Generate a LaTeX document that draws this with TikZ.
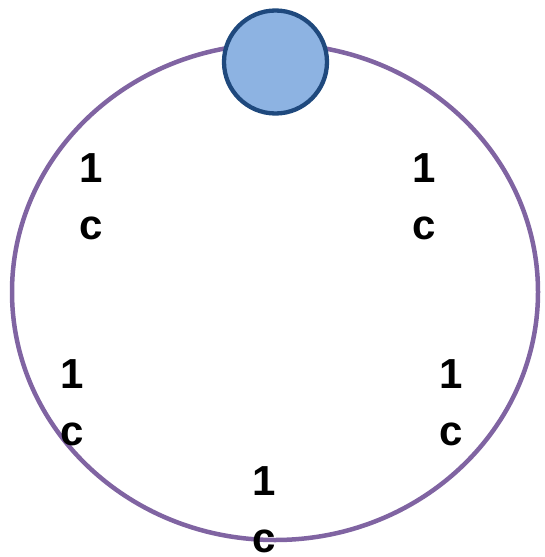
\documentclass[tikz,border=0pt]{standalone}
\usepackage{fontspec}
\setmainfont{Liberation Sans}
\usepackage{xcolor}
\definecolor{roxo}{RGB}{128, 100, 162}
\definecolor{azulclaro}{RGB}{141, 179, 226}
\definecolor{azulescuro}{RGB}{31, 73, 125}
\tikzset{
  rotulo/.style={
    align=center, inner sep=0pt,
    font=\fontsize{42}{57}\selectfont\bfseries
  },
  anel/.style={draw=roxo, line width=4.5pt},
  bola/.style={circle, draw=azulescuro, fill=azulclaro, line width=4.3pt,
    minimum size=103pt, inner sep=0pt},
}

\begin{document}
\begin{tikzpicture}[x=1pt, y=-1pt]

\useasboundingbox (0,0) rectangle (544,557);

\draw[anel] (275,292) ellipse [x radius=263, y radius=248];

\node[bola] (bola) at (275.5,62) {};

\node[rotulo] (sup esq) at (91,197) {1\\c};
\node[rotulo] (sup dir) at (424.5,197) {1\\c};
\node[rotulo] (esq) at (72,403) {1\\c};
\node[rotulo] (dir) at (451.5,403) {1\\c};
\node[rotulo] (inf) at (264.5,510) {1\\c};

\end{tikzpicture}
\end{document}
